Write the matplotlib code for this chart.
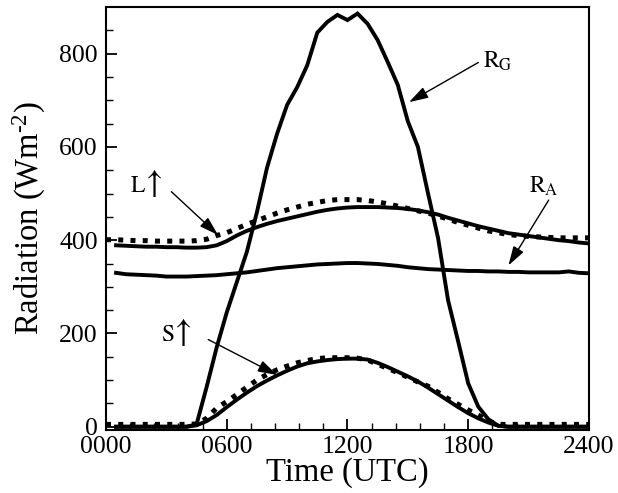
import matplotlib
matplotlib.use("Agg")
import matplotlib.pyplot as plt
import numpy as np

plt.rcParams["font.family"] = ["Liberation Serif", "DejaVu Serif"]
plt.rcParams["mathtext.fontset"] = "custom"
plt.rcParams["mathtext.rm"] = "Liberation Serif"
plt.rcParams["mathtext.it"] = "Liberation Serif"

# time in hours
t_solid = np.arange(0.5, 24.01, 0.5)
t_dot = np.arange(0.0, 24.01, 0.5)

# global radiation R_G (0.5 .. 24)
rg = [0, 0, 0, 0, 0, 0, 0, 0, 5, 85, 170, 245, 310, 375, 460, 555, 628,
      690, 728, 775, 845, 868, 883, 872, 886, 864, 829, 782, 733, 655, 600,
      501, 405, 271, 183, 93, 43, 16, 2, 0, 0, 0, 0, 0, 0, 0, 0, 0]

# atmospheric radiation R_A (0.5 .. 24)
ra = [330, 327, 326, 325, 324, 322, 322, 322, 323, 324, 325, 327, 329, 331,
      334, 337, 340, 342, 344, 346, 348, 349, 350, 351, 351, 350, 349, 347,
      345, 342, 340, 338, 337, 336, 335, 334, 334, 333, 333, 332, 332, 331,
      331, 331, 331, 333, 330, 329]

# upward longwave, model (solid, 0.5 .. 24) and obs (dotted, 0 .. 24)
lw_mod = [389, 388, 387, 386, 386, 385, 385, 384, 384, 385, 389, 398, 410,
          420, 428, 435, 441, 446, 451, 456, 461, 465, 468, 470, 471, 471,
          471, 470, 469, 467, 464, 460, 455, 448, 442, 436, 430, 425, 420,
          415, 412, 409, 406, 403, 400, 398, 395, 393]
lw_obs = [401, 401, 400, 399, 399, 398, 398, 398, 398, 399, 402, 410, 416,
          425, 434, 442, 450, 458, 465, 471, 477, 481, 485, 487, 487, 487,
          485, 482, 478, 473, 468, 463, 458, 452, 445, 438, 432, 426, 420,
          416, 412, 410, 408, 407, 406, 405, 405, 405, 405]

# upward shortwave, model (solid) and obs (dotted)
sw_mod = [0, 0, 0, 0, 0, 0, 0, 0, 3, 12, 25, 42, 58, 73, 87, 99, 110, 120,
          129, 136, 140, 143, 145, 146, 146, 144, 137, 128, 118, 108, 97,
          84, 70, 56, 42, 29, 18, 9, 2, 0, 0, 0, 0, 0, 0, 0, 0, 0]
sw_obs = [5, 5, 5, 5, 5, 5, 5, 5, 5, 6, 18, 40, 54, 69, 85, 100, 112, 122,
          130, 137, 142, 146, 148, 148, 148, 147, 143, 134, 125, 116, 106,
          96, 87, 74, 60, 48, 36, 25, 12, 5, 5, 5, 5, 5, 5, 5, 5, 5, 5]

xticks = [0, 6, 12, 18, 24]
xticklabels = ["0000", "0600", "1200", "1800", "2400"]
yticks = [0, 200, 400, 600, 800]

fig = plt.figure(figsize=(6.18, 4.93), dpi=100)
ax = fig.add_axes([0.1715, 0.1278, 0.7815, 0.858])

solid = dict(color="black", lw=2.8, solid_joinstyle="miter")
dotted = dict(color="black", lw=3.6, linestyle=(0, (1.0, 1.45)),
              dash_capstyle="butt")

ax.plot(t_solid, rg, **solid)
ax.plot(t_solid, ra, **solid)
ax.plot(t_solid, lw_mod, **solid)
ax.plot(t_solid, sw_mod, **solid)
ax.plot(t_dot, lw_obs, **dotted)
ax.plot(t_dot, sw_obs, **dotted)

ax.set_xlim(0, 24)
ax.set_ylim(-7, 900)
ax.set_xticks(xticks)
ax.set_xticklabels(xticklabels)
ax.set_yticks(yticks)
ax.set_xticks(np.arange(0, 24.01, 1.2), minor=True)
ax.set_yticks(np.arange(0, 900, 50), minor=True)

ax.tick_params(which="both", direction="in", top=False, right=False,
               labelsize=18.5, width=1.3)
ax.tick_params(which="major", length=8)
ax.tick_params(which="minor", length=5, width=1.0)
ax.tick_params(axis="y", pad=6)
ax.tick_params(axis="x", pad=4)
for s in ax.spines.values():
    s.set_linewidth(1.5)

ax.set_xlabel("Time (UTC)", fontsize=23.5, labelpad=0)
ax.set_ylabel(r"Radiation (Wm$^{\text{-2}}$)", fontsize=23.5, labelpad=8)

arrow = dict(arrowstyle="-|>,head_length=0.65,head_width=0.2",
             color="black", lw=1.0, mutation_scale=18,
             shrinkA=0, shrinkB=0)

ax.annotate("", xy=(15.06, 696), xytext=(18.5, 781), arrowprops=arrow)
ax.annotate("", xy=(5.57, 411), xytext=(3.25, 504), arrowprops=arrow)
ax.annotate("", xy=(20.0, 346), xytext=(22.0, 486), arrowprops=arrow)
ax.annotate("", xy=(8.5, 111), xytext=(5.08, 187), arrowprops=arrow)

lab = dict(fontsize=17, va="baseline", family=["STIXGeneral", "DejaVu Serif"])
up = dict(fontsize=24, va="baseline", family=["STIXGeneral", "DejaVu Serif"])
ax.text(18.75, 769, r"R$_{\mathregular{G}}$", **lab)
ax.text(21.0, 502, r"R$_{\mathregular{A}}$", **lab)
ax.text(1.25, 503, "L", **lab)
ax.text(2.0, 503, "\u2191", **up)
ax.text(2.72, 183, "S", **lab)
ax.text(3.42, 183, "\u2191", **up)

fig.savefig("out.png", dpi=100)
